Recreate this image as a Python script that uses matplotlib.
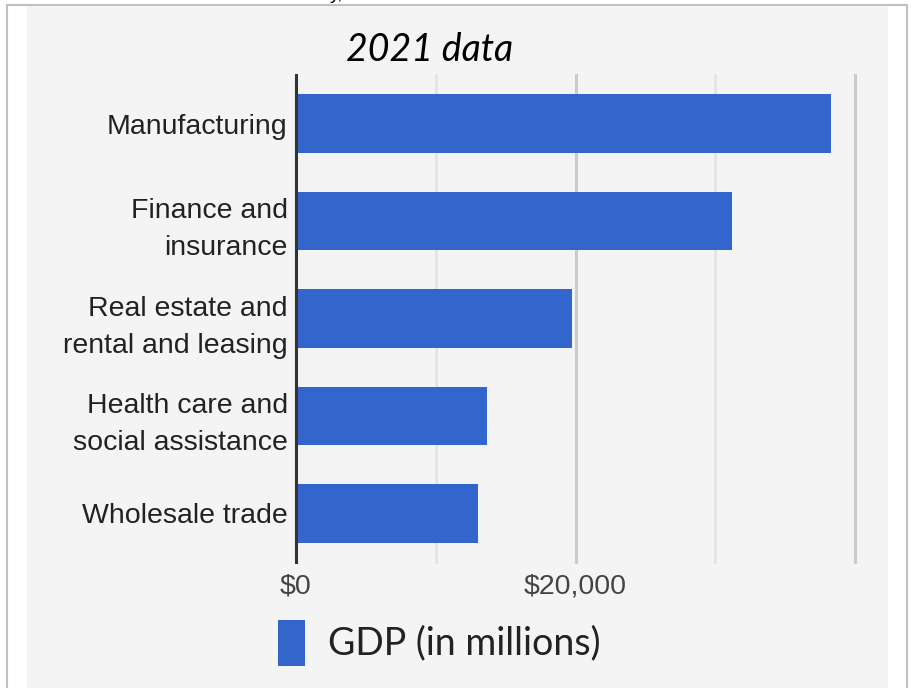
import matplotlib.pyplot as plt
import matplotlib.patches as patches

# GDP by industry, 2021, millions of dollars
industries = ["Manufacturing", "Finance and\ninsurance", "Real estate and\nrental and leasing",
              "Health care and\nsocial assistance", "Wholesale trade"]
gdp = [38300, 31200, 19750, 13650, 13000]
tick_vals = [0, 20000]
tick_labels = ["$0", "$20,000"]
minor_grid = [10000, 30000]
major_grid = [20000, 40000]

W, H = 913, 688
fig = plt.figure(figsize=(W / 100, H / 100), dpi=100)
fig.patch.set_facecolor("white")

def px(x, y, w, h):
    # pixel box (top-left origin) -> figure fraction rect
    return (x / W, 1 - (y + h) / H), w / W, h / H

# page frame and grey panel
(x0, y0), w0, h0 = px(7, 5, 900, 700)
fig.patches.append(patches.Rectangle((x0, y0), w0, h0, transform=fig.transFigure,
                                     facecolor="white", edgecolor="#c0c0c0", lw=1.5, zorder=-2))
(x1, y1), w1, h1 = px(27, 6, 861, 700)
fig.patches.append(patches.Rectangle((x1, y1), w1, h1, transform=fig.transFigure,
                                     facecolor="#f4f4f4", edgecolor="none", zorder=-1))

# tail of the text line above the chart
fig.text(330 / W, 1.0015, "y,", fontsize=14, family="Liberation Sans", color="black",
         ha="left", va="baseline")

ax = fig.add_axes([296 / W, 1 - 562 / H, (855 - 296) / W, (562 - 75) / H])
ax.set_facecolor("none")
ax.set_zorder(1)

for g in minor_grid:
    ax.axvline(g, color="#e4e4e4", lw=2, zorder=0, clip_on=False)
for g in major_grid:
    ax.axvline(g, color="#cccccc", lw=2.2, zorder=0, clip_on=False)

ypos = list(range(len(industries)))
ax.barh(ypos, gdp, height=0.6, color="#3366cc", zorder=2)
ax.axvline(0, color="#333333", lw=2.2, zorder=3, clip_on=False)

ax.set_xlim(0, 40000)
ax.set_ylim(len(industries) - 0.5, -0.5)
for s in ax.spines.values():
    s.set_visible(False)

ax.set_yticks(ypos)
ax.set_yticklabels(industries, fontsize=20.5, family="Liberation Sans", color="#222222")
for lab in ax.get_yticklabels():
    lab.set_linespacing(1.55)
ax.set_xticks(tick_vals)
ax.set_xticklabels(tick_labels, fontsize=20.5, family="Liberation Sans", color="#444444")
ax.tick_params(axis="y", length=0, pad=6)
ax.tick_params(axis="x", length=0, pad=8)

fig.text(430 / W, 1 - 50 / H, "2021 data", fontsize=27, family="Lato", style="italic",
         ha="center", va="center", color="black")

# legend
(lx, ly), lw_, lh = px(278, 620, 27, 46)
fig.patches.append(patches.Rectangle((lx, ly), lw_, lh, transform=fig.transFigure,
                                     facecolor="#3366cc", edgecolor="none"))
fig.text(328 / W, 1 - 643 / H, "GDP (in millions)", fontsize=27, family="Lato",
         ha="left", va="center", color="#222222")

fig.savefig("out.png", dpi=100)
